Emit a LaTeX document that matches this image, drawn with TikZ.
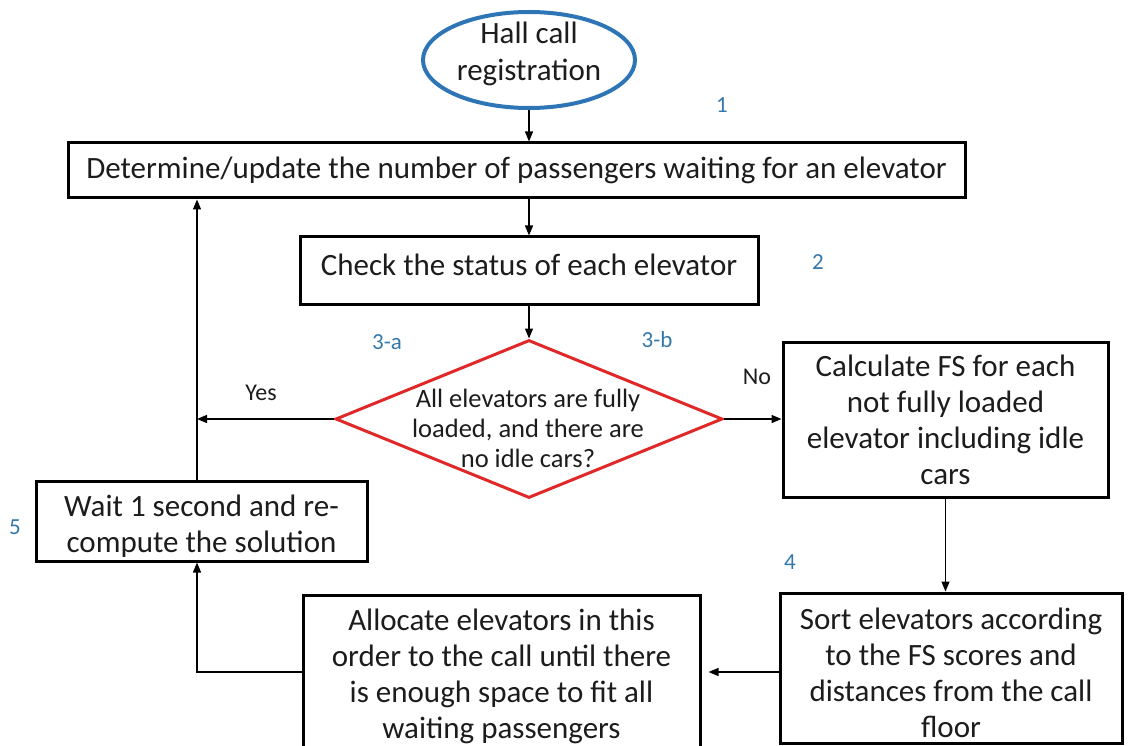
\documentclass[tikz,border=0pt]{standalone}
\usepackage{fontspec}
\setmainfont{Carlito}
\usetikzlibrary{shapes.geometric,arrows.meta}
\definecolor{callblue}{RGB}{46,117,182}
\definecolor{decred}{RGB}{224,40,40}
\definecolor{stepnum}{RGB}{52,120,170}
\definecolor{ink}{RGB}{28,28,28}
% invisible strut that lowers the text block of a box a little
\newcommand{\topstrut}[1]{\rule{0pt}{#1}}
\tikzset{
  procbox/.style={draw=black, line width=3pt, inner sep=0pt, text=ink,
    font=\fontsize{31}{36}\selectfont, align=center},
  flow/.style={draw=black, line width=1.4pt, -{Triangle[length=10pt,width=8pt]}},
  stepno/.style={text=stepnum, font=\fontsize{23}{27}\selectfont},
  answer/.style={text=ink, font=\fontsize{24}{28}\selectfont},
}
\begin{document}
\begin{tikzpicture}[x=1pt,y=-1pt]
\useasboundingbox (0,0) rectangle (1128,746);

% start of the procedure
\node[ellipse, draw=callblue, line width=4pt, minimum width=212pt, minimum height=96pt,
  inner xsep=0pt, inner ysep=-5pt, text depth=17pt, text=ink,
  font=\fontsize{31}{37}\selectfont, align=center]
  (hall) at (529,60) {Hall call\\registration};

% process steps
\node[procbox, minimum width=897pt, minimum height=55pt] (det) at (516.5,170.5)
  {Determine/update the number of passengers waiting for an elevator};
\node[procbox, minimum width=458pt, minimum height=68pt, text depth=12pt] (chk) at (529,271)
  {Check the status of each elevator};

% decision
\node[diamond, draw=decred, line width=3pt, minimum width=387pt, minimum height=158pt,
  inner sep=0pt] (dia) at (529,419) {};
\node[text=ink, font=\fontsize{26.5}{30}\selectfont, align=center] (diatext) at (528,428)
  {All elevators are fully\\loaded, and there are\\no idle cars?};

\node[procbox, minimum width=325pt, minimum height=155pt] (calc) at (945.5,419.5)
  {Calculate FS for each\\not fully loaded\\elevator including idle\\cars};
\node[procbox, minimum width=342pt, minimum height=150pt] (sort) at (951,668)
  {\topstrut{32pt}Sort elevators according\\to the FS scores and\\distances from the call\\floor};
\node[procbox, minimum width=397pt, minimum height=154pt] (alloc) at (501.5,672)
  {\topstrut{30pt}Allocate elevators in this\\order to the call until there\\is enough space to fit all\\waiting passengers};
\node[procbox, minimum width=331pt, minimum height=80pt] (wait) at (201.5,521)
  {\topstrut{32pt}Wait 1 second and re-\\compute the solution};

% x position of the feedback loop on the left
\coordinate (loopx) at (197,0);

% connectors
\draw[flow] (hall.south) -- (hall.south |- det.north);
\draw[flow] (det.south -| chk.north) -- (chk.north);
\draw[flow] (chk.south) -- (dia.north);
\draw[flow] (dia.east) -- (calc.west |- dia.east);
\draw[flow] (calc.south) -- (calc.south |- sort.north);
\draw[flow, shorten >=7pt] (sort.west |- alloc.east) -- (alloc.east);
\draw[flow] (alloc.west) -| (loopx |- wait.south);
\draw[flow] (loopx |- wait.north) -- (loopx |- det.south);
\draw[flow] (dia.west) -- (loopx |- dia.west);

% branch answers
\node[answer] (yes) at (261,393) {Yes};
\node[answer] (no) at (757,377) {No};

% step numbers
\node[stepno] (s1) at (722,105) {1};
\node[stepno] (s2) at (818,262) {2};
\node[stepno] (s3a) at (387,342) {3-a};
\node[stepno] (s3b) at (657,340) {3-b};
\node[stepno] (s4) at (790,562) {4};
\node[stepno] (s5) at (15,527) {5};
\end{tikzpicture}
\end{document}
